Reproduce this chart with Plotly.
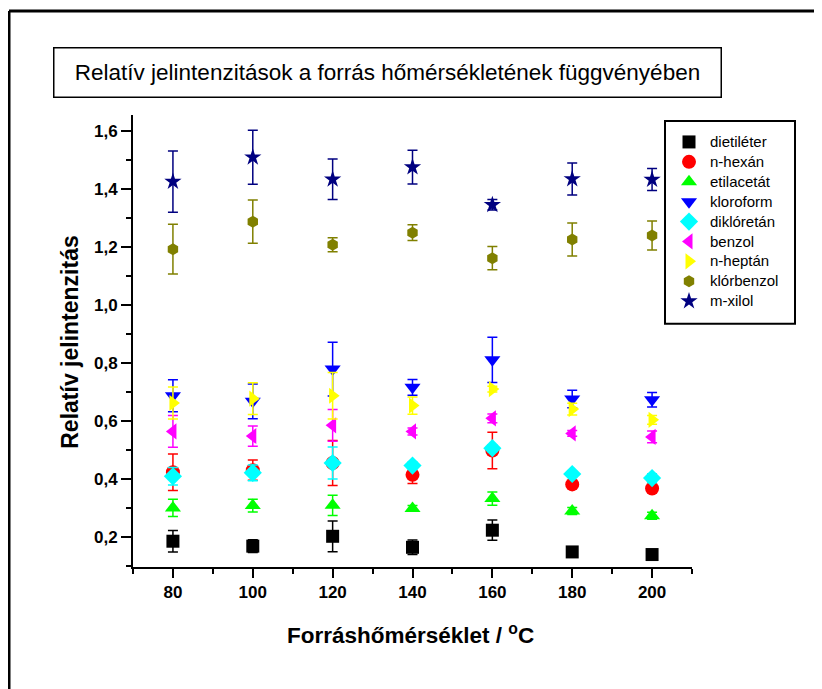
import plotly.graph_objects as go

# ---------------- data ----------------
temps = [80, 100, 120, 140, 160, 180, 200]

series_names = ["dietiléter", "n-hexán", "etilacetát", "kloroform", "diklóretán",
                "benzol", "n-heptán", "klórbenzol", "m-xilol"]

dietileter = [0.184, 0.167, 0.201, 0.163, 0.222, 0.147, 0.138]
dietileter_err = [0.037, 0.022, 0.053, 0.025, 0.035, 0.008, 0.006]

n_hexan = [0.422, 0.429, 0.454, 0.413, 0.497, 0.380, 0.366]
n_hexan_err = [0.063, 0.035, 0.078, 0.030, 0.063, 0.012, 0.012]

etilacetat = [0.299, 0.307, 0.308, 0.297, 0.331, 0.288, 0.272]
etilacetat_err = [0.030, 0.022, 0.035, 0.010, 0.023, 0.012, 0.012]

kloroform = [0.686, 0.667, 0.778, 0.715, 0.810, 0.675, 0.672]
kloroform_err = [0.055, 0.060, 0.093, 0.027, 0.078, 0.030, 0.025]

dikloretan = [0.408, 0.420, 0.454, 0.445, 0.505, 0.416, 0.402]
dikloretan_err = [0.030, 0.027, 0.055, 0.012, 0.012, 0.010, 0.015]

benzol = [0.563, 0.547, 0.584, 0.563, 0.608, 0.556, 0.544]
benzol_err = [0.055, 0.035, 0.055, 0.012, 0.015, 0.010, 0.020]

n_heptan = [0.661, 0.676, 0.686, 0.652, 0.709, 0.640, 0.603]
n_heptan_err = [0.055, 0.055, 0.080, 0.030, 0.010, 0.020, 0.015]

klorbenzol = [1.192, 1.287, 1.207, 1.249, 1.161, 1.225, 1.239]
klorbenzol_err = [0.086, 0.075, 0.024, 0.027, 0.040, 0.057, 0.050]

m_xilol = [1.425, 1.509, 1.433, 1.475, 1.345, 1.434, 1.432]
m_xilol_err = [0.106, 0.093, 0.070, 0.058, 0.018, 0.055, 0.038]

x_tick_vals = [80, 100, 120, 140, 160, 180, 200]
y_tick_vals = [0.2, 0.4, 0.6, 0.8, 1.0, 1.2, 1.4, 1.6]
y_tick_text = ["0,2", "0,4", "0,6", "0,8", "1,0", "1,2", "1,4", "1,6"]

title_text = "Relatív jelintenzitások a forrás hőmérsékletének függvényében"
x_title = "Forráshőmérséklet / <sup>o</sup>C"
y_title = "Relatív jelintenzitás"

# ---------------- styles ----------------
values = [dietileter, n_hexan, etilacetat, kloroform, dikloretan, benzol, n_heptan, klorbenzol, m_xilol]
errors = [dietileter_err, n_hexan_err, etilacetat_err, kloroform_err, dikloretan_err,
          benzol_err, n_heptan_err, klorbenzol_err, m_xilol_err]
colors = ["#000000", "#FF0000", "#00FF00", "#0000FF", "#00FFFF",
          "#FF00FF", "#FFFF00", "#808000", "#000080"]
symbols = ["square", "circle", "triangle-up", "triangle-down", "diamond",
           "triangle-left", "triangle-right", "hexagon", "star"]
sizes = [13, 14, 14, 14, 14, 14, 14, 12, 13]

FONT = "Liberation Sans, Arial, sans-serif"

fig = go.Figure()
for name, v, e, c, s, sz in zip(series_names, values, errors, colors, symbols, sizes):
    fig.add_trace(go.Scatter(
        x=temps, y=v, mode="markers",
        name='<span style="font-size:15px">' + name + '</span>',
        marker=dict(symbol=s, color=c, size=sz, line=dict(width=0)),
        error_y=dict(type="data", array=e, visible=True, color=c, thickness=1.5, width=5),
    ))

# page has an 8px body margin: work in page pixel coordinates
OFF = 8
W, H = 814, 681
L, T = 125, 107
pw, ph = 559, 452.5
R = W - L - pw
B = H - T - ph

def px(xpage):
    return (xpage - OFF - L) / pw

def py(ypage):
    return (T + ph - (ypage - OFF)) / ph

fig.update_layout(
    width=W, height=H,
    margin=dict(l=L, r=R, t=T, b=B, pad=0),
    paper_bgcolor="white", plot_bgcolor="white",
    font=dict(family=FONT, color="black"),
    showlegend=True,
    legend=dict(
        x=px(668), y=py(127), xanchor="left", yanchor="top",
        borderwidth=0, bgcolor="rgba(0,0,0,0)",
        font=dict(size=13, family=FONT, color="black"),
        itemwidth=32,
    ),
    xaxis=dict(
        range=[70, 210], tickvals=x_tick_vals, ticktext=[str(t) for t in x_tick_vals],
        ticks="outside", ticklen=9, tickwidth=2, tickcolor="black",
        showline=True, linewidth=2, linecolor="black", mirror=False,
        showgrid=False, zeroline=False,
        tickfont=dict(size=17, family=FONT, weight="bold"),
        minor=dict(ticks="outside", tick0=70, dtick=20, ticklen=5, tickwidth=2, tickcolor="black", showgrid=False),
    ),
    yaxis=dict(
        range=[0.095, 1.655], tickvals=y_tick_vals, ticktext=y_tick_text,
        ticks="outside", ticklen=10, tickwidth=2, tickcolor="black",
        showline=True, linewidth=2, linecolor="black", mirror=False,
        showgrid=False, zeroline=False,
        tickfont=dict(size=17, family=FONT, weight="bold"),
        minor=dict(ticks="outside", tick0=0.1, dtick=0.2, ticklen=5, tickwidth=2, tickcolor="black", showgrid=False),
    ),
    annotations=[
        dict(text=title_text, xref="paper", yref="paper", x=px(387.5), y=py(72),
             xanchor="center", yanchor="middle", showarrow=False,
             font=dict(size=22.5, family=FONT, color="black"),
             bordercolor="black", borderwidth=1.5, borderpad=10, bgcolor="white",
             width=646, height=28),
        dict(text=x_title, xref="paper", yref="paper", x=px(410), y=py(635),
             xanchor="center", yanchor="middle", showarrow=False,
             font=dict(size=22.5, family=FONT, color="black", weight="bold")),
        dict(text=y_title, xref="paper", yref="paper", x=px(70), y=py(343),
             xanchor="center", yanchor="middle", showarrow=False, textangle=-90,
             font=dict(size=23, family=FONT, color="black", weight="bold")),
    ],
    shapes=[
        # outer frame (top and left edges)
        dict(type="line", xref="paper", yref="paper", x0=px(9), x1=px(830), y0=py(11), y1=py(11),
             line=dict(color="black", width=3)),
        dict(type="line", xref="paper", yref="paper", x0=px(9), x1=px(9), y0=py(11), y1=py(700),
             line=dict(color="black", width=3)),
        # legend box
        dict(type="rect", xref="paper", yref="paper", x0=px(665), x1=px(795), y0=py(121), y1=py(324),
             line=dict(color="black", width=2), fillcolor="rgba(0,0,0,0)", layer="above"),
    ],
)

fig.write_html("out.html")
